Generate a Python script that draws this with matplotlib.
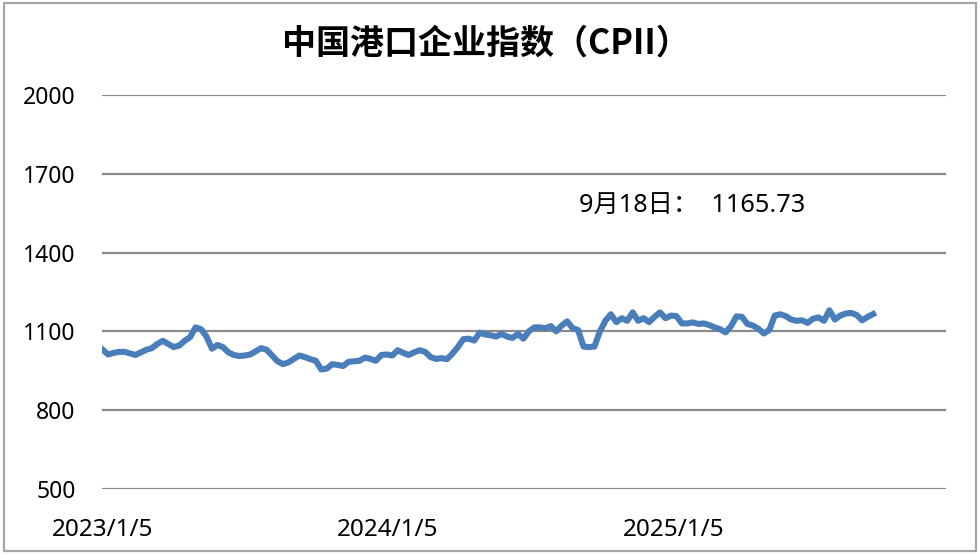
import matplotlib
matplotlib.use("Agg")
import matplotlib.pyplot as plt
import matplotlib.patches as patches
import pandas as pd

plt.rcParams['font.family'] = ['Noto Sans', 'Noto Sans CJK SC', 'DejaVu Sans']

# weekly CPII readings, 2023/1/5 .. 2025/9/18
start_date = "2023-01-05"
cpii = [
    1030, 1012, 1018, 1022, 1022, 1016, 1010, 1020, 1030, 1036,
    1052, 1064, 1052, 1040, 1046, 1064, 1078, 1115, 1108, 1080,
    1034, 1048, 1040, 1020, 1010, 1006, 1008, 1012, 1024, 1036,
    1030, 1008, 986, 975, 982, 995, 1008, 1002, 994, 988,
    955, 958, 975, 972, 968, 984, 986, 988, 1000, 995,
    988, 1010, 1012, 1008, 1028, 1018, 1010, 1020, 1028, 1022,
    1002, 995, 998, 994, 1015, 1040, 1070, 1072, 1065, 1095,
    1088, 1085, 1080, 1090, 1080, 1075, 1090, 1072, 1100, 1115,
    1115, 1112, 1120, 1100, 1122, 1138, 1112, 1105, 1042, 1040,
    1042, 1100, 1140, 1165, 1135, 1150, 1140, 1172, 1140, 1150,
    1135, 1155, 1172, 1150, 1160, 1158, 1130, 1130, 1134, 1128,
    1130, 1124, 1115, 1108, 1096, 1120, 1157, 1155, 1128, 1122,
    1110, 1092, 1105, 1160, 1165, 1158, 1145, 1140, 1142, 1132,
    1148, 1153, 1140, 1180, 1145, 1160, 1168, 1170, 1162, 1142,
    1155, 1165.73,
]
dates = pd.date_range(start_date, periods=len(cpii), freq="7D")
tick_dates = pd.to_datetime(["2023-01-05", "2024-01-05", "2025-01-05"])
tick_labels = ["2023/1/5", "2024/1/5", "2025/1/5"]
y_ticks = [500, 800, 1100, 1400, 1700, 2000]

title = "中国港口企业指数（CPII）"
note = "9月18日：  1165.73"

fig = plt.figure(figsize=(9.8, 5.55), dpi=100)
ax = fig.add_axes([0.104, 0.119, 0.861, 0.710])

ax.plot(dates, cpii, color="#4a7ebb", lw=4.4, solid_joinstyle="round", zorder=3)

ax.set_ylim(500, 2000)
ax.set_yticks(y_ticks)
ax.set_xlim(dates[0] - pd.Timedelta(days=1), dates[0] + pd.Timedelta(days=1080))
ax.set_xticks(tick_dates)
ax.set_xticklabels(tick_labels)
ax.grid(axis="y", color="#8a8a8a", lw=1.6)
ax.set_axisbelow(True)
for s in ax.spines.values():
    s.set_visible(False)
ax.tick_params(axis="y", length=0, pad=19, labelsize=16.5)
ax.tick_params(axis="x", length=0, pad=21, labelsize=17.5)

fig.text(0.496, 0.9225, title, ha="center", va="center", fontsize=24.5,
         fontweight="bold", family=['Noto Sans CJK SC', 'DejaVu Sans'])
fig.text(0.706, 0.629, note, ha="center", va="center", fontsize=18.2)

fig.patches.append(patches.Rectangle((0.004, 0.008), 0.992, 0.986,
                                     transform=fig.transFigure, fill=False,
                                     edgecolor="#a6a6a6", lw=1.6))

fig.savefig("out.png", dpi=100)
